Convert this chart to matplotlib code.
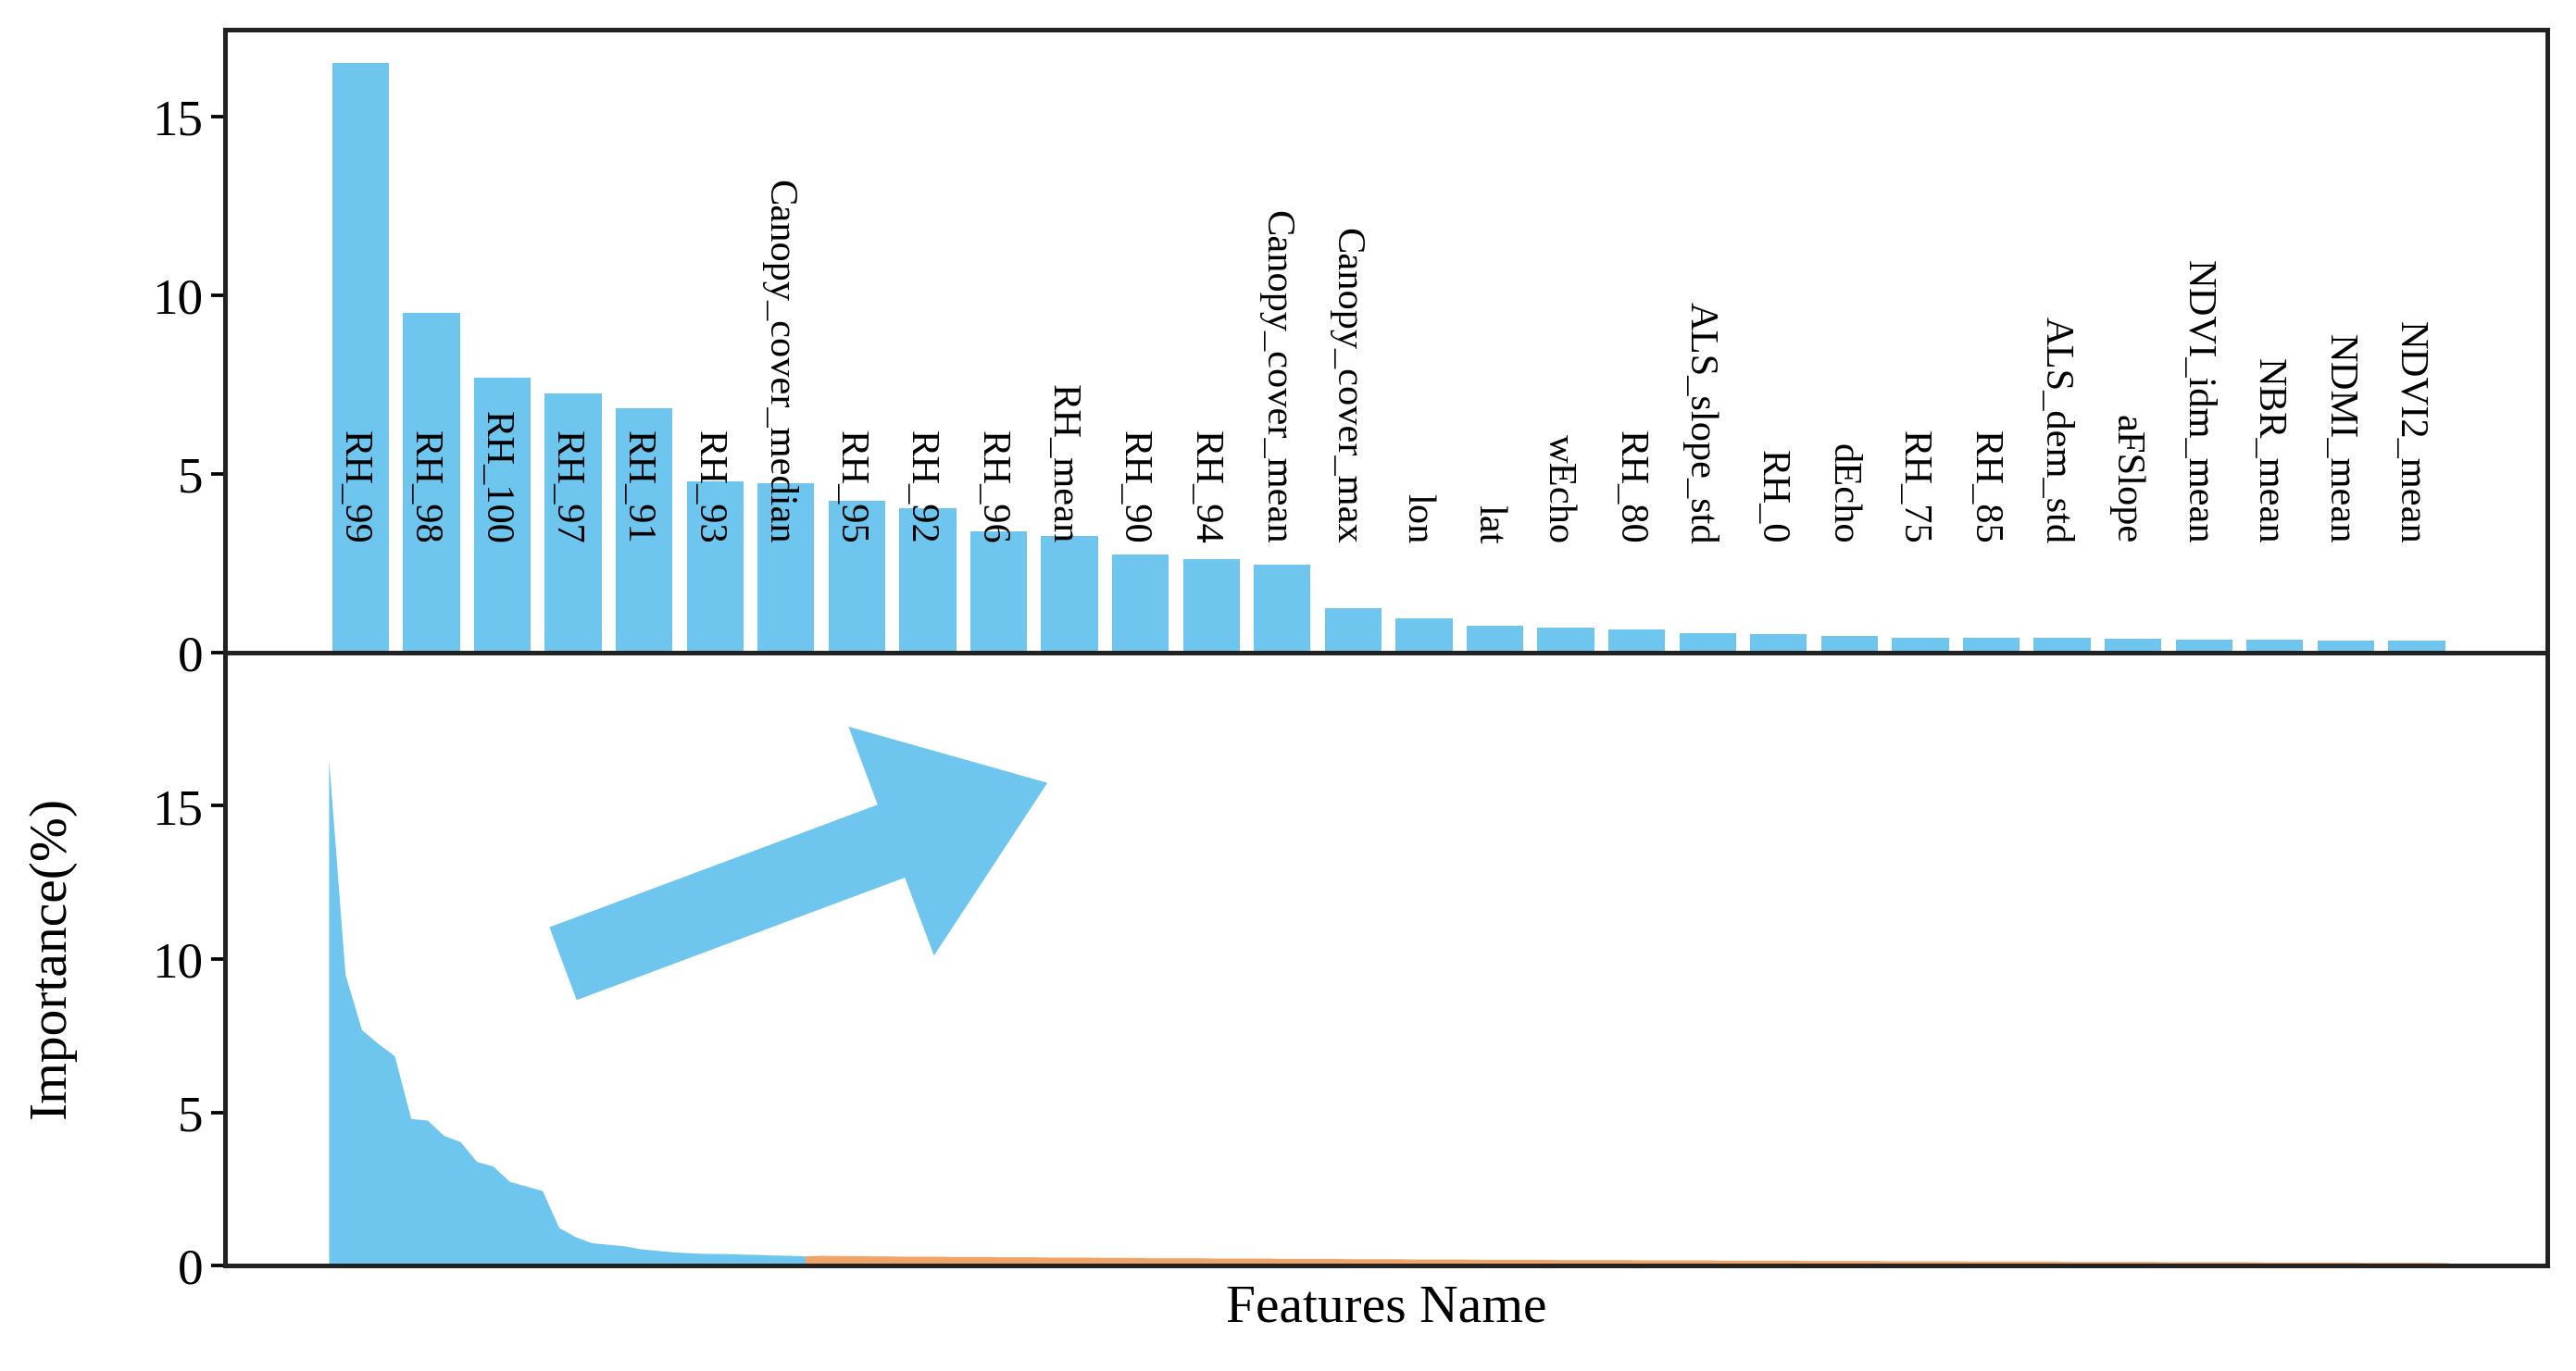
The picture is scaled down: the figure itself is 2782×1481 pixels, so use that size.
import matplotlib
matplotlib.use('Agg')
import matplotlib.pyplot as plt
import numpy as np

plt.rcParams['font.family'] = ['Liberation Serif', 'DejaVu Serif']

# top 30 features
names = ['RH_99', 'RH_98', 'RH_100', 'RH_97', 'RH_91', 'RH_93', 'Canopy_cover_median',
         'RH_95', 'RH_92', 'RH_96', 'RH_mean', 'RH_90', 'RH_94', 'Canopy_cover_mean',
         'Canopy_cover_max', 'lon', 'lat', 'wEcho', 'RH_80', 'ALS_slope_std', 'RH_0',
         'dEcho', 'RH_75', 'RH_85', 'ALS_dem_std', 'aFSlope', 'NDVI_idm_mean',
         'NBR_mean', 'NDMI_mean', 'NDVI2_mean']
top_vals = [16.5, 9.5, 7.7, 7.25, 6.85, 4.8, 4.75, 4.25, 4.05, 3.4, 3.25, 2.75, 2.6,
            2.45, 1.25, 0.95, 0.75, 0.7, 0.65, 0.55, 0.5, 0.45, 0.42, 0.4, 0.4, 0.38,
            0.37, 0.35, 0.34, 0.32]

# remaining features (all features, lower panel)
tail_vals = [0.34, 0.33, 0.33, 0.32, 0.32, 0.31, 0.31, 0.31, 0.30, 0.30,
             0.30, 0.29, 0.29, 0.29, 0.28, 0.28, 0.28, 0.27, 0.27, 0.27,
             0.26, 0.26, 0.26, 0.26, 0.25, 0.25, 0.25, 0.25, 0.24, 0.24,
             0.24, 0.24, 0.23, 0.23, 0.23, 0.23, 0.22, 0.22, 0.22, 0.22,
             0.21, 0.21, 0.21, 0.21, 0.21, 0.20, 0.20, 0.20, 0.20, 0.20,
             0.19, 0.19, 0.19, 0.19, 0.19, 0.18, 0.18, 0.18, 0.18, 0.18,
             0.17, 0.17, 0.17, 0.17, 0.17, 0.16, 0.16, 0.16, 0.16, 0.16,
             0.15, 0.15, 0.15, 0.15, 0.15, 0.15, 0.14, 0.14, 0.14, 0.14,
             0.14, 0.14, 0.13, 0.13, 0.13, 0.13, 0.13, 0.13, 0.12, 0.12,
             0.12, 0.12, 0.12, 0.12, 0.11, 0.11, 0.11, 0.11, 0.11, 0.10]

blue = '#6EC6EE'
orange = '#F0A468'

fig = plt.figure(figsize=(15.46, 8.23), dpi=180)
ax1 = fig.add_axes([137/1568, 1-397/834, (1550-137)/1568, (397-18)/834])
ax2 = fig.add_axes([137/1568, 1-770/834, (1550-137)/1568, (770-397)/834])

x = np.arange(len(top_vals))
ax1.bar(x, top_vals, width=0.8, color=blue)
for xi, n in zip(x, names):
    ax1.text(xi - 0.1, 3.05, n, rotation=270, rotation_mode='anchor', ha='right',
             va='center', fontsize=17)
ax1.set_xlim(-1.91, 30.84)
ax1.set_ylim(0, 17.45)
ax1.set_xticks([])
ax1.set_yticks([0, 5, 10, 15])

all_vals = top_vals + tail_vals
xa = np.arange(len(all_vals))
nb = len(top_vals)
ax2.fill_between(xa[:nb], all_vals[:nb], color=blue, lw=0)
ax2.fill_between(xa[nb-1:], all_vals[nb-1:], color=orange, lw=0)
ax2.set_xlim(-6.3, 135)
ax2.set_ylim(0, 20)
ax2.set_xticks([])
ax2.set_yticks([0, 5, 10, 15])
ax2.set_xlabel('Features Name', fontsize=23, labelpad=8)
fig.text(0.02, 1-582/834, 'Importance(%)', rotation=90, ha='center', va='center', fontsize=23)

ax2.annotate('', xy=(44, 15.8), xytext=(14, 9.8),
             arrowprops=dict(arrowstyle='simple,head_length=1.5,head_width=2.2,tail_width=0.7',
                             mutation_scale=48, color=blue, lw=0))

for ax in (ax1, ax2):
    for s in ax.spines.values():
        s.set_linewidth(2)
        s.set_color('#222222')
    ax.tick_params(axis='y', labelsize=22, width=1.5, length=6)

fig.savefig('out.png', dpi=180)
